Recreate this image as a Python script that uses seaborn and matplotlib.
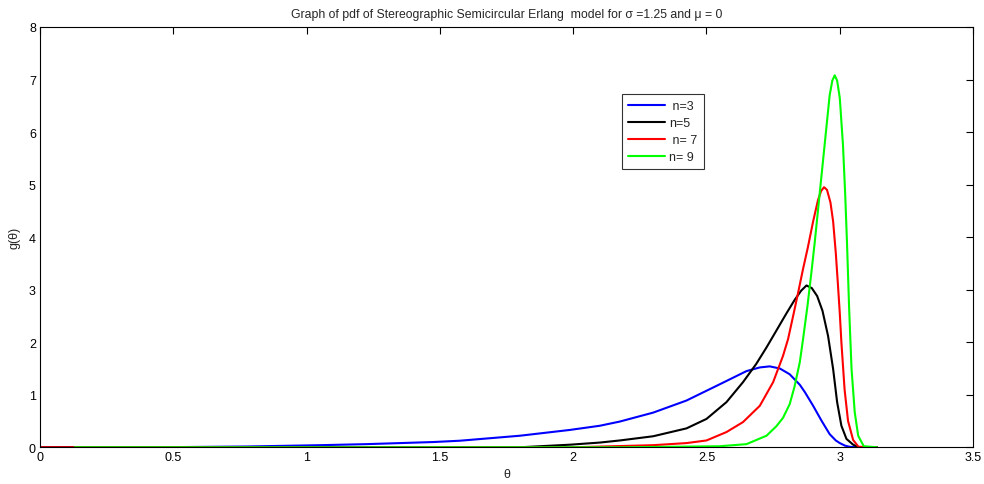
import numpy as np
import pandas as pd
import matplotlib
matplotlib.use("Agg")
import matplotlib.pyplot as plt
import seaborn as sns

# ---- data ----
theta_n3 = [0, 0.5, 0.775, 1.05, 1.225, 1.35, 1.475, 1.575, 1.8, 1.987, 2.1, 2.175, 2.3,
            2.425, 2.55, 2.65, 2.7, 2.737, 2.775, 2.812, 2.85, 2.869, 2.9, 2.931, 2.962,
            2.985, 3.0, 3.02, 3.037, 3.06, 3.14]
g_n3 = [0, 0.003, 0.015, 0.04, 0.06, 0.08, 0.10, 0.125, 0.22, 0.33, 0.41, 0.49, 0.66,
        0.89, 1.20, 1.45, 1.52, 1.54, 1.50, 1.39, 1.19, 1.05, 0.79, 0.51, 0.25,
        0.13, 0.08, 0.03, 0.01, 0, 0]

theta_n5 = [0, 1.8, 1.99, 2.1, 2.175, 2.3, 2.425, 2.5, 2.575, 2.637, 2.687, 2.725, 2.762,
            2.8, 2.83, 2.855, 2.875, 2.895, 2.915, 2.935, 2.956, 2.975, 2.99, 3.006, 3.025,
            3.05, 3.07, 3.14]
g_n5 = [0, 0.0, 0.05, 0.09, 0.13, 0.21, 0.36, 0.54, 0.86, 1.24, 1.59, 1.90, 2.22,
        2.55, 2.80, 2.98, 3.08, 3.03, 2.88, 2.60, 2.12, 1.49, 0.86, 0.41, 0.16,
        0.05, 0, 0]

theta_n7 = [0, 2.0, 2.3, 2.425, 2.5, 2.575, 2.637, 2.7, 2.75, 2.787, 2.806, 2.825, 2.844,
            2.862, 2.88, 2.9, 2.918, 2.93, 2.941, 2.952, 2.965, 2.975, 2.985, 2.993, 3.0,
            3.006, 3.018, 3.031, 3.05, 3.07, 3.14]
g_n7 = [0, 0.0, 0.04, 0.08, 0.13, 0.29, 0.48, 0.79, 1.24, 1.74, 2.06, 2.50, 2.95,
        3.39, 3.80, 4.30, 4.70, 4.88, 4.95, 4.90, 4.66, 4.30, 3.70, 3.10, 2.55,
        2.00, 1.10, 0.50, 0.14, 0.01, 0]

theta_n9 = [0.13, 2.2, 2.55, 2.65, 2.725, 2.762, 2.787, 2.812, 2.83, 2.85, 2.862, 2.879,
            2.894, 2.906, 2.925, 2.944, 2.962, 2.972, 2.981, 2.99, 3.0, 3.012, 3.02, 3.027,
            3.035, 3.044, 3.056, 3.069, 3.09, 3.14]
g_n9 = [0, 0.0, 0.02, 0.06, 0.22, 0.40, 0.56, 0.82, 1.15, 1.62, 2.05, 2.70,
        3.35, 3.90, 4.85, 5.80, 6.70, 6.98, 7.08, 6.98, 6.65, 5.75, 4.85, 3.90,
        2.65, 1.50, 0.67, 0.22, 0.02, 0]

labels = [" n=3", "n=5", " n= 7", "n= 9"]
colors = ["#0000ff", "#000000", "#ff0000", "#00ff00"]

x_ticks = [0, 0.5, 1, 1.5, 2, 2.5, 3, 3.5]
x_tick_labels = ["0", "0.5", "1", "1.5", "2", "2.5", "3", "3.5"]
y_ticks = [0, 1, 2, 3, 4, 5, 6, 7, 8]

title = "Graph of pdf of Stereographic Semicircular Erlang  model for \u03c3 =1.25 and \u03bc = 0"

# ---- build long table ----
frames = []
for th, g, lab in zip([theta_n3, theta_n5, theta_n7, theta_n9],
                      [g_n3, g_n5, g_n7, g_n9], labels):
    frames.append(pd.DataFrame({"theta": th, "g": g, "series": lab}))
df = pd.concat(frames, ignore_index=True)

sns.set_style("white")
plt.rcParams["font.family"] = ["Liberation Sans", "DejaVu Sans"]

fig = plt.figure(figsize=(9.84, 4.85), dpi=100)
ax = fig.add_axes([0.0407, 0.0757, 0.9482, 0.8666])

sns.lineplot(data=df, x="theta", y="g", hue="series", palette=dict(zip(labels, colors)),
             hue_order=labels, sort=False, estimator=None, linewidth=1.5, legend=False, ax=ax)

ax.set_xlim(0, 3.5)
ax.set_ylim(0, 8)
ax.set_xticks(x_ticks)
ax.set_xticklabels(x_tick_labels)
ax.set_yticks(y_ticks)
ax.tick_params(direction="in", length=5, width=0.8, top=True, right=True,
               labelsize=9, colors="black", pad=3)
for s in ax.spines.values():
    s.set_color("black")
    s.set_linewidth(0.8)

ax.set_xlabel("\u03b8", fontsize=9, labelpad=3)
ax.set_ylabel("g(\u03b8)", fontsize=9, labelpad=6)
ax.set_title(title, fontsize=8.8, pad=7)

leg = ax.legend(ax.lines[:4], labels, loc="upper left", bbox_to_anchor=(0.6234, 0.8406),
                borderaxespad=0, fontsize=9, frameon=True, fancybox=False, edgecolor="black",
                handlelength=3.0, labelspacing=0.4, borderpad=0.5, handletextpad=0.3)
leg.get_frame().set_linewidth(0.8)

fig.savefig("out.png", dpi=100)
